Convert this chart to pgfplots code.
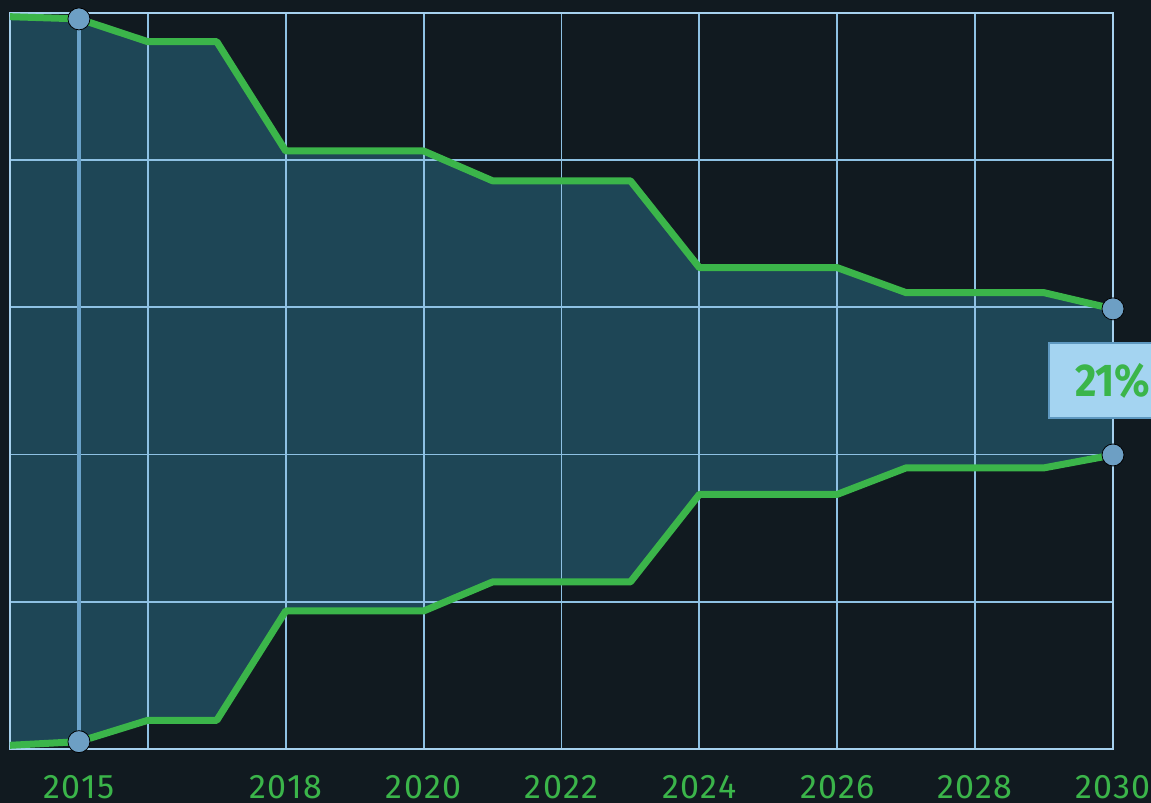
\documentclass[border=0pt]{standalone}
\usepackage{pgfplots}
\pgfplotsset{compat=1.18}
\usepackage{graphicx}
\usepackage{fontspec}
\setmainfont{Fira Sans}
\definecolor{bg}{HTML}{111A20}
\definecolor{areaf}{HTML}{1E4656}
\definecolor{lgreen}{HTML}{3BB54A}
\definecolor{gridc}{HTML}{8EC1E3}
\definecolor{framec}{HTML}{A6D1EE}
\definecolor{vline}{HTML}{6AA2C9}
\definecolor{mk}{HTML}{6D9FC4}
\definecolor{boxf}{HTML}{A4D4F1}
\definecolor{boxb}{HTML}{5E98C0}
\begin{document}
\begin{tikzpicture}
\begin{axis}[
  set layers,
  at={(0,0)}, anchor=south west,
  scale only axis, width=551.5pt, height=368pt,
  xmin=2014, xmax=2030, ymin=-50, ymax=50,
  clip=false,
  axis line style={color=framec, line width=1pt},
  xtick={2015,2018,2020,2022,2024,2026,2028,2030},
  minor xtick={2016,2018,2020,2022,2024,2026,2028},
  xminorgrids=true, xmajorgrids=false,
  ytick={-30,-10,10,30}, yticklabels={},
  ymajorgrids=true,
  grid style={color=gridc, line width=0.9pt},
  minor grid style={color=gridc, line width=0.9pt},
  major tick length=0pt, minor tick length=0pt,
  x tick label style={/pgf/number format/1000 sep={}, /pgf/number format/assume math mode=true,
    font=\fontsize{17}{19}\selectfont\addfontfeatures{LetterSpace=4}, text=lgreen, anchor=base, yshift=-24.8pt},
]
\begin{pgfonlayer}{axis background}
\fill[bg] (rel axis cs:-0.009066,-0.07337) rectangle (rel axis cs:1.03445,1.01766);
\end{pgfonlayer}
\addplot[fill=areaf, draw=none, on layer=axis background] coordinates {
 (2014,49.5)(2015,49.2)(2016,46.1)(2017,46.1)(2018,31.25)(2019,31.25)(2020,31.25)
 (2021,27.2)(2022,27.2)(2023,27.2)(2024,15.4)(2025,15.4)(2026,15.4)
 (2027,12.0)(2028,12.0)(2029,12.0)(2030,9.8)
 (2030,-10.05)(2029,-11.8)(2028,-11.8)(2027,-11.8)(2026,-15.4)(2025,-15.4)(2024,-15.4)
 (2023,-27.3)(2022,-27.3)(2021,-27.3)(2020,-31.25)(2019,-31.25)(2018,-31.25)
 (2017,-46.1)(2016,-46.1)(2015,-49.0)(2014,-49.5)
} -- cycle;
\addplot[vline, line width=2.2pt] coordinates {(2015,49.2)(2015,-49.0)};
\addplot[lgreen, line width=3.5pt, line join=round] coordinates {
 (2014,49.5)(2015,49.2)(2016,46.1)(2017,46.1)(2018,31.25)(2019,31.25)(2020,31.25)
 (2021,27.2)(2022,27.2)(2023,27.2)(2024,15.4)(2025,15.4)(2026,15.4)
 (2027,12.0)(2028,12.0)(2029,12.0)(2030,9.8)};
\addplot[lgreen, line width=3.5pt, line join=round] coordinates {
 (2014,-49.5)(2015,-49.0)(2016,-46.1)(2017,-46.1)(2018,-31.25)(2019,-31.25)(2020,-31.25)
 (2021,-27.3)(2022,-27.3)(2023,-27.3)(2024,-15.4)(2025,-15.4)(2026,-15.4)
 (2027,-11.8)(2028,-11.8)(2029,-11.8)(2030,-10.05)};
\addplot[only marks, mark=*, mark size=5.5pt, mark options={draw=none, fill=mk}]
 coordinates {(2015,49.2)(2015,-49.0)(2030,9.8)(2030,-10.05)};
\node[draw=boxb, line width=1pt, fill=boxf, anchor=west, minimum height=37.5pt, inner sep=0pt,
  font=\bfseries\fontsize{23}{27}\selectfont, text=lgreen] at (axis cs:2029.06,0) {\kern13pt\scalebox{0.9}[1]{21\%}\kern25pt};
\end{axis}
\pgfresetboundingbox
\path (-5pt,-27pt) rectangle (570.5pt,374.5pt);
\end{tikzpicture}
\end{document}
